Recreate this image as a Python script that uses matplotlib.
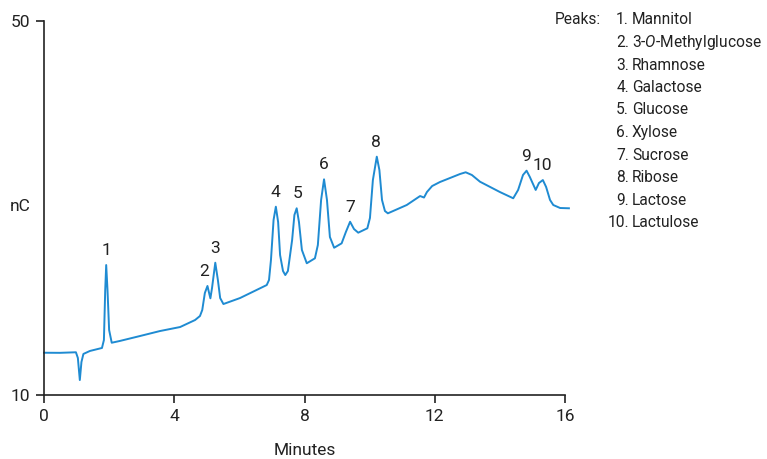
import matplotlib
matplotlib.use("Agg")
import matplotlib.pyplot as plt

# ---- data ----
time_min = [0.00, 0.49, 0.98, 1.04, 1.10, 1.15, 1.21, 1.41, 1.78, 1.84, 1.88, 1.91, 1.95, 2.00,
            2.08, 2.33, 2.95, 3.56, 4.18, 4.64, 4.79, 4.86, 4.94, 5.02, 5.07, 5.11, 5.16, 5.26,
            5.34, 5.41, 5.51, 6.02, 6.84, 6.91, 6.97, 7.05, 7.12, 7.19, 7.25, 7.34, 7.41, 7.49,
            7.62, 7.69, 7.76, 7.83, 7.92, 8.07, 8.32, 8.41, 8.51, 8.60, 8.69, 8.78, 8.91, 9.14,
            9.27, 9.40, 9.52, 9.65, 9.93, 10.01, 10.10, 10.22, 10.30, 10.38, 10.47, 10.56, 11.14,
            11.55, 11.67, 11.76, 11.92, 12.16, 12.78, 12.95, 13.14, 13.39, 14.00, 14.41, 14.56,
            14.71, 14.82, 14.92, 15.10, 15.20, 15.32, 15.42, 15.54, 15.64, 15.85, 16.12]
signal_nC = [14.52, 14.51, 14.57, 13.96, 11.60, 13.53, 14.39, 14.71, 15.03, 15.88, 21.23, 23.90,
             21.23, 16.95, 15.59, 15.78, 16.31, 16.84, 17.27, 18.02, 18.45, 19.09, 20.91, 21.66,
             20.91, 20.34, 21.44, 24.15, 22.30, 20.37, 19.73, 20.37, 21.76, 22.30, 24.44, 28.72,
             30.14, 28.50, 24.97, 23.26, 22.83, 23.26, 26.58, 29.25, 29.97, 28.50, 25.51, 24.09,
             24.62, 26.04, 30.86, 33.07, 30.86, 26.90, 25.75, 26.22, 27.43, 28.53, 27.75, 27.36,
             27.83, 28.93, 32.99, 35.49, 34.06, 30.86, 29.68, 29.43, 30.32, 31.28, 31.12, 31.71,
             32.35, 32.78, 33.64, 33.82, 33.53, 32.81, 31.71, 31.04, 31.93, 33.53, 33.99, 33.32,
             31.93, 32.67, 32.99, 32.25, 30.86, 30.32, 30.00, 29.97]

peak_labels = ["1", "2", "3", "4", "5", "6", "7", "8", "9", "10"]
peak_times = [1.91, 4.93, 5.24, 7.10, 7.79, 8.58, 9.40, 10.20, 14.80, 15.31]
peak_heights = [23.90, 21.66, 24.15, 30.14, 29.97, 33.07, 28.53, 35.49, 33.99, 32.99]

peak_names = ["Mannitol", "3-$\\mathit{O}$-Methylglucose", "Rhamnose", "Galactose", "Glucose",
              "Xylose", "Sucrose", "Ribose", "Lactose", "Lactulose"]

x_ticks = [0, 4, 8, 12, 16]
y_ticks = [10, 50]

# ---- style ----
FAM = "Roboto"
plt.rcParams["font.family"] = [FAM, "DejaVu Sans"]
plt.rcParams["mathtext.fontset"] = "custom"
plt.rcParams["mathtext.rm"] = FAM
plt.rcParams["mathtext.it"] = FAM + ":italic"
TXT = "#222222"
LINE = "#1f8bd2"
FS = 12.5
FS_LEG = 11.2

fig = plt.figure(figsize=(7.67, 4.59), dpi=100)
ax = fig.add_axes([44 / 767, 64 / 459, 521 / 767, 374 / 459])

ax.plot(time_min, signal_nC, color=LINE, lw=1.4, clip_on=False,
        solid_joinstyle="round", antialiased=True)

for lab, t, h in zip(peak_labels, peak_times, peak_heights):
    ax.annotate(lab, xy=(t, h), xytext=(0, 10.5), textcoords="offset points",
                ha="center", va="center", fontsize=FS, color=TXT)

ax.set_xlim(0, 16)
ax.set_ylim(10, 50)
ax.set_xticks(x_ticks)
ax.set_yticks(y_ticks)
for s in ["top", "right"]:
    ax.spines[s].set_visible(False)
for s in ["left", "bottom"]:
    ax.spines[s].set_color(TXT)
    ax.spines[s].set_linewidth(1.2)
ax.tick_params(axis="both", direction="out", length=6, width=1.2, color=TXT,
               labelsize=FS, labelcolor=TXT, pad=4)

ax.set_xlabel("Minutes", fontsize=FS, color=TXT, labelpad=14)
ax.set_ylabel("nC", fontsize=FS, color=TXT, rotation=0, ha="center", va="center")
ax.yaxis.set_label_coords(-0.045, 0.505)

# legend block "Peaks:"
fig.text(601 / 767, 1 - 20 / 459, "Peaks:", ha="right", va="center", fontsize=FS_LEG, color=TXT)
for i, name in enumerate(peak_names):
    yy = 1 - (20 + i * 22.5) / 459
    fig.text(629 / 767, yy, f"{i + 1}.", ha="right", va="center", fontsize=FS_LEG, color=TXT)
    fig.text(632 / 767, yy, name, ha="left", va="center", fontsize=FS_LEG, color=TXT)

fig.savefig("out.png", dpi=100)
